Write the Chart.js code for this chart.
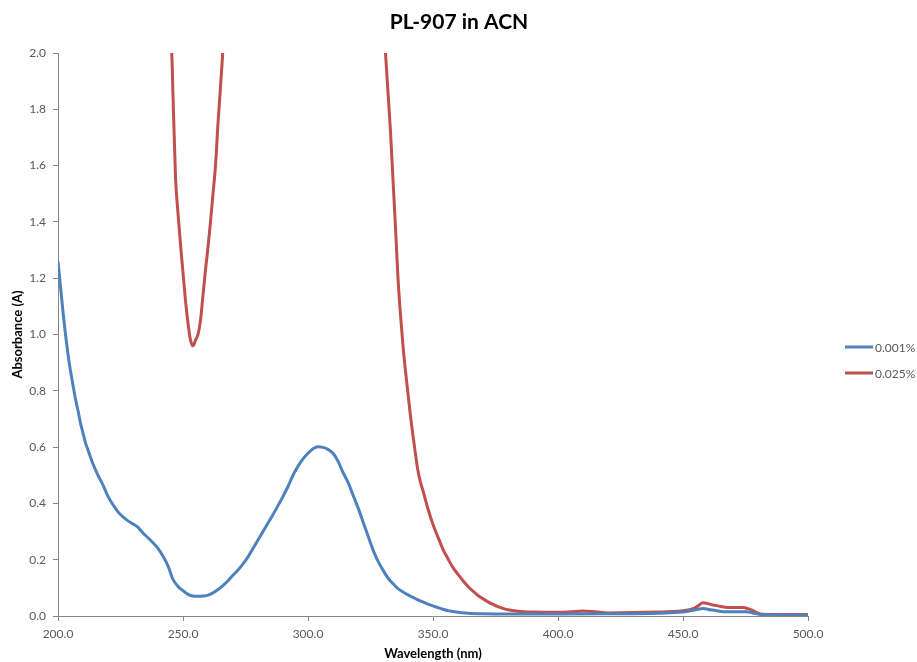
<!DOCTYPE html>
<html>
<head>
<meta charset="utf-8">
<title>PL-907 in ACN</title>
<script src="https://cdn.jsdelivr.net/npm/chart.js@4.4.1/dist/chart.umd.min.js"></script>
<style>
    html, body { margin: 0; padding: 0; background: #fff; }
    #wrap { width: 917px; height: 662px; position: relative; }
</style>
</head>
<body>
<div id="wrap"><canvas id="specChart" width="917" height="662"></canvas></div>
<script>
// Spectrum data (wavelength nm / absorbance A)
const seriesNames = ['0.001%', '0.025%'];
const seriesColors = ['#4F81BD', '#C0504D'];

const blueNm = [200, 201, 202, 203, 204, 205, 206, 207, 208, 209, 210, 211, 212, 214, 216, 218, 220, 222, 224, 226,
    228, 230, 232, 234, 236, 238, 240, 242, 244, 246, 248, 250, 252, 254, 256, 258, 260, 262, 264, 266,
    268, 270, 272, 274, 276, 278, 280, 282, 284, 286, 288, 290, 292, 294, 296, 298, 300, 302, 304, 306,
    308, 310, 312, 314, 316, 318, 320, 322, 324, 326, 328, 330, 332, 334, 336, 338, 340, 342, 344, 346,
    348, 350, 352, 354, 356, 358, 360, 364, 370, 380, 400, 420, 440, 448, 452, 455, 458, 461, 464, 467,
    471, 475, 478, 481, 490, 500];
const blueAbs = [1.26, 1.17, 1.08, 1.00, 0.93, 0.87, 0.82, 0.77, 0.73, 0.685, 0.65, 0.615, 0.59, 0.54, 0.50, 0.465, 0.425, 0.395, 0.37, 0.352,
    0.338, 0.327, 0.315, 0.295, 0.278, 0.26, 0.24, 0.212, 0.178, 0.13, 0.105, 0.09, 0.077, 0.071, 0.070, 0.071, 0.074, 0.082, 0.094, 0.108,
    0.125, 0.145, 0.163, 0.185, 0.21, 0.24, 0.27, 0.30, 0.33, 0.36, 0.392, 0.425, 0.46, 0.50, 0.532, 0.558, 0.578, 0.594, 0.601, 0.599,
    0.592, 0.578, 0.55, 0.51, 0.475, 0.43, 0.385, 0.335, 0.285, 0.235, 0.195, 0.163, 0.135, 0.115, 0.097, 0.085, 0.075, 0.066, 0.057, 0.05,
    0.042, 0.036, 0.03, 0.024, 0.019, 0.016, 0.013, 0.010, 0.008, 0.007, 0.007, 0.008, 0.010, 0.013, 0.017, 0.022, 0.027, 0.022, 0.018, 0.015,
    0.015, 0.015, 0.011, 0.005, 0.003, 0.003];

const redNm = [238, 242, 244, 245.5, 246, 247, 248, 249, 250, 251, 252, 253, 254, 255, 256, 257, 258, 259, 260, 261,
    262, 263, 264, 265, 266, 268, 272, 300, 325, 328, 330, 331, 332, 333, 334, 335, 336, 337, 338, 339,
    340, 341, 342, 343, 344, 345, 346, 348, 350, 352, 354, 356, 358, 360, 362, 364, 366, 368, 370, 372,
    374, 376, 378, 380, 384, 390, 400, 405, 410, 415, 420, 430, 440, 446, 450, 454, 456, 458, 460, 462,
    464, 467, 470, 474, 476, 478, 480, 482, 490, 500];
const redAbs = [2.7, 2.3, 2.15, 2.0, 1.85, 1.56, 1.43, 1.32, 1.22, 1.12, 1.04, 0.98, 0.96, 0.98, 1.00, 1.05, 1.14, 1.23, 1.31, 1.40,
    1.50, 1.60, 1.75, 1.88, 2.02, 2.4, 3.0, 3.2, 3.0, 2.4, 2.12, 2.0, 1.86, 1.72, 1.55, 1.38, 1.20, 1.07, 0.96, 0.87,
    0.79, 0.71, 0.64, 0.575, 0.515, 0.475, 0.445, 0.38, 0.325, 0.28, 0.237, 0.203, 0.172, 0.148, 0.125, 0.105, 0.088, 0.073, 0.061, 0.050,
    0.041, 0.033, 0.027, 0.022, 0.017, 0.014, 0.013, 0.015, 0.018, 0.015, 0.011, 0.012, 0.014, 0.016, 0.019, 0.026, 0.036, 0.047, 0.044, 0.039,
    0.036, 0.031, 0.030, 0.030, 0.026, 0.019, 0.010, 0.006, 0.005, 0.005];

const xTicks = [200, 250, 300, 350, 400, 450, 500];
const yTicks = [0, 0.2, 0.4, 0.6, 0.8, 1.0, 1.2, 1.4, 1.6, 1.8, 2.0];

function toPoints(xs, ys) {
    return xs.map((x, i) => ({ x: x, y: ys[i] }));
}

const axisGrey = '#868686';
const tickGrey = '#595959';
const fontFamily = 'Lato, "Liberation Sans", sans-serif';

// Title and right-hand legend drawn on the canvas
const decorations = {
    id: 'decorations',
    afterDraw(chart) {
        const ctx = chart.ctx;
        ctx.save();
        ctx.fillStyle = '#000';
        ctx.font = 'bold 21px ' + fontFamily;
        ctx.textAlign = 'center';
        ctx.textBaseline = 'middle';
        ctx.fillText('PL-907 in ACN', 459, 22);

        const rowY = [347, 373];
        ctx.font = '12px ' + fontFamily;
        ctx.textAlign = 'left';
        seriesNames.forEach((name, i) => {
            ctx.strokeStyle = seriesColors[i];
            ctx.lineWidth = 3;
            ctx.beginPath();
            ctx.moveTo(845, rowY[i]);
            ctx.lineTo(873, rowY[i]);
            ctx.stroke();
            ctx.fillStyle = tickGrey;
            ctx.fillText(name, 875, rowY[i] + 1);
        });
        ctx.restore();
    }
};

const ctx = document.getElementById('specChart').getContext('2d');
const specChart = new Chart(ctx, {
    type: 'line',
    data: {
        datasets: [
            {
                label: seriesNames[0],
                data: toPoints(blueNm, blueAbs),
                borderColor: seriesColors[0],
                backgroundColor: seriesColors[0],
                borderWidth: 3,
                pointRadius: 0,
                cubicInterpolationMode: 'monotone'
            },
            {
                label: seriesNames[1],
                data: toPoints(redNm, redAbs),
                borderColor: seriesColors[1],
                backgroundColor: seriesColors[1],
                borderWidth: 3,
                pointRadius: 0,
                cubicInterpolationMode: 'monotone'
            }
        ]
    },
    options: {
        responsive: false,
        animation: false,
        layout: {
            padding: { top: 53, right: 109, left: 0, bottom: 0 }
        },
        plugins: {
            legend: { display: false },
            title: { display: false },
            tooltip: { enabled: false }
        },
        scales: {
            x: {
                type: 'linear',
                min: 200,
                max: 500,
                afterBuildTicks: (scale) => { scale.ticks = xTicks.map(v => ({ value: v })); },
                afterFit: (scale) => { scale.height = 46; },
                grid: { drawOnChartArea: false, drawTicks: true, tickLength: 5, color: axisGrey },
                border: { display: true, color: axisGrey, width: 1 },
                ticks: {
                    color: tickGrey,
                    padding: 6,
                    maxRotation: 0,
                    font: { family: fontFamily, size: 12 },
                    callback: (v) => Number(v).toFixed(1)
                },
                title: {
                    display: true,
                    text: 'Wavelength (nm)',
                    color: '#000',
                    padding: { top: 4, bottom: 0 },
                    font: { family: fontFamily, size: 13, weight: 'bold' }
                }
            },
            y: {
                min: 0,
                max: 2,
                afterBuildTicks: (scale) => { scale.ticks = yTicks.map(v => ({ value: v })); },
                afterFit: (scale) => { scale.width = 58; },
                grid: { drawOnChartArea: false, drawTicks: true, tickLength: 5, color: axisGrey },
                border: { display: true, color: axisGrey, width: 1 },
                ticks: {
                    color: tickGrey,
                    padding: 7,
                    font: { family: fontFamily, size: 12 },
                    callback: (v) => Number(v).toFixed(1)
                },
                title: {
                    display: true,
                    text: 'Absorbance (A)',
                    color: '#000',
                    padding: { top: 10, bottom: 0 },
                    font: { family: fontFamily, size: 13, weight: 'bold' }
                }
            }
        }
    },
    plugins: [decorations]
});
</script>
</body>
</html>
